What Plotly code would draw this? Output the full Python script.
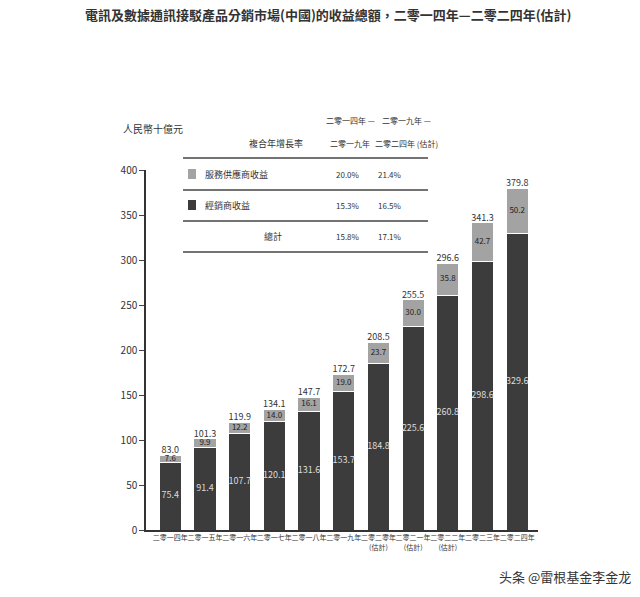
import plotly.graph_objects as go

years = ["二零一四年", "二零一五年", "二零一六年", "二零一七年", "二零一八年", "二零一九年",
         "二零二零年<br>(估計)", "二零二一年<br>(估計)", "二零二二年<br>(估計)", "二零二三年", "二零二四年"]
dealer = [75.4, 91.4, 107.7, 120.1, 131.6, 153.7, 184.8, 225.6, 260.8, 298.6, 329.6]
service = [7.6, 9.9, 12.2, 14.0, 16.1, 19.0, 23.7, 30.0, 35.8, 42.7, 50.2]
total = [83.0, 101.3, 119.9, 134.1, 147.7, 172.7, 208.5, 255.5, 296.6, 341.3, 379.8]

FONT = "Noto Sans CJK TC, Noto Sans CJK SC, serif"
L, R, T, B = 138, 530, 170, 530
W, H = 640, 597

fig = go.Figure()
fig.add_bar(x=years, y=dealer, marker=dict(color="#3c3c3c", line=dict(color="white", width=1)), width=0.64)
fig.add_bar(x=years, y=service, marker=dict(color="#a3a3a3", line=dict(color="white", width=1)), width=0.64)
fig.add_scatter(x=years, y=[d / 2 for d in dealer], mode="text", text=[f"{v:.1f}" for v in dealer],
                textposition="middle center", textfont=dict(size=9, color="#dddddd"))
fig.add_scatter(x=years, y=[d + s / 2 for d, s in zip(dealer, service)], mode="text",
                text=[f"{v:.1f}" for v in service], textposition="middle center",
                textfont=dict(size=8, color="#222"))
fig.add_scatter(x=years, y=total, mode="text", text=[f"{v:.1f}" for v in total],
                textposition="top center", textfont=dict(size=9, color="#333"), cliponaxis=False)

def px(x): return (x - L) / (R - L)
def py(y): return (B - y) / (B - T)

ann = []
def A(x, y, t, size=9, anchor="center"):
    ann.append(dict(x=px(x), y=py(y), xref="paper", yref="paper", text=t, showarrow=False,
                    font=dict(size=size, color="#333"), xanchor=anchor, yanchor="middle"))

A(145, 129, "人民幣十億元", 10)
A(268, 143, "複合年增長率")
A(342, 120, "二零一四年 —", 8); A(342, 143, "二零一九年", 8)
A(398, 120, "二零一九年 —", 8); A(398, 143, "二零二四年 (估計)", 8)
A(195, 174, "服務供應商收益", anchor="left"); A(340, 174, "20.0%", 8); A(382, 174, "21.4%", 8)
A(195, 205, "經銷商收益", anchor="left"); A(340, 205, "15.3%", 8); A(382, 205, "16.5%", 8)
A(265, 236, "總計"); A(340, 236, "15.8%", 8); A(382, 236, "17.1%", 8)
A(625, 576, "头条 @雷根基金李金龙", 13, "right")
A(320, 14, "<b>電訊及數據通訊接駁產品分銷市場(中國)的收益總額，二零一四年—二零二四年(估計)</b>", 13)

shapes = []
for yy in [158, 190, 221, 252]:
    shapes.append(dict(type="line", xref="paper", yref="paper", x0=px(175), x1=px(420), y0=py(yy), y1=py(yy),
                       line=dict(color="#444", width=1.3)))
for yy, c in [(174, "#a3a3a3"), (205, "#3c3c3c")]:
    shapes.append(dict(type="rect", xref="paper", yref="paper", x0=px(180), x1=px(188), y0=py(yy - 5), y1=py(yy + 5),
                       fillcolor=c, line=dict(width=0)))

fig.update_layout(
    width=W, height=H, barmode="stack", showlegend=False,
    margin=dict(l=L, r=W - R, t=T - 8, b=H - B + 8),
    plot_bgcolor="white", paper_bgcolor="white",
    font=dict(family=FONT, color="#333"),
    annotations=ann, shapes=shapes,
    xaxis=dict(range=[-0.7, 10.6], showline=True, linecolor="#333", linewidth=2, ticks="",
               tickfont=dict(size=7), tickangle=0),
    yaxis=dict(range=[0, 400], dtick=50, showgrid=False, showline=True, linecolor="#333", linewidth=1.5,
               ticks="outside", ticklen=5, tickfont=dict(size=10), zeroline=False),
)
fig.write_html("out.html")
